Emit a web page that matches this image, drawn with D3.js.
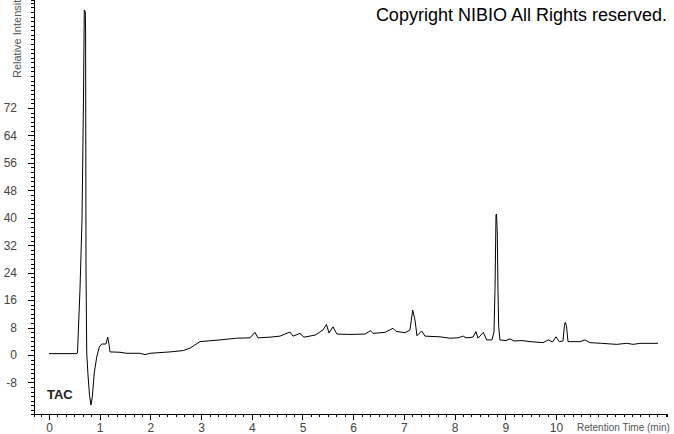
<!DOCTYPE html>
<html>
<head>
<meta charset="utf-8">
<script src="https://cdn.jsdelivr.net/npm/d3@7"></script>
<style>
  body { margin: 0; background: #fff; }
  svg { display: block; font-family: "Liberation Sans", Arial, sans-serif; }
</style>
</head>
<body>
<div id="chart"></div>
<script>
// retention time (min) and relative intensity
const times = [
  0, 0.533, 0.562, 0.611, 0.651, 0.680, 0.696, 0.716, 0.722, 0.730, 0.744, 0.769, 0.799, 0.828, 0.854,
  0.893, 0.941, 0.992, 1.039, 1.124, 1.158, 1.183, 1.203, 1.400, 1.533, 1.795, 1.893, 1.992, 2.387,
  2.649, 2.781, 2.978, 3.373, 3.702, 3.964, 4.063, 4.122, 4.359, 4.556, 4.753, 4.813, 4.951, 5.030,
  5.247, 5.345, 5.404, 5.473, 5.523, 5.602, 5.680, 5.937, 6.233, 6.341, 6.391, 6.627, 6.785, 6.844,
  7.022, 7.120, 7.174, 7.219, 7.258, 7.351, 7.416, 7.712, 7.909, 8.067, 8.172, 8.225, 8.363, 8.422,
  8.462, 8.566, 8.633, 8.738, 8.777, 8.797, 8.817, 8.826, 8.842, 8.856, 8.870, 8.895, 9.014, 9.093,
  9.172, 9.329, 9.487, 9.744, 9.848, 9.935, 10.000, 10.065, 10.138, 10.168, 10.183, 10.207, 10.237,
  10.473, 10.572, 10.671, 10.901, 11.197, 11.394, 11.525, 11.657, 12.012
]
const intensity = [
  0.4, 0.4, 0.6, 19.0, 39.4, 74.3, 100.6, 100.0, 93.9, 24.8, 0.6, -5.8, -11.7, -14.6, -12.2,
  -5.2, -0.6, 2.3, 3.2, 3.2, 5.2, 3.2, 0.9, 0.8, 0.5, 0.5, 0.1, 0.5, 0.9,
  1.3, 2.0, 3.9, 4.4, 4.9, 5.0, 6.6, 5.0, 5.2, 5.5, 6.7, 5.5, 6.3, 5.2,
  5.8, 6.7, 7.3, 8.9, 6.4, 8.2, 6.1, 6.0, 6.1, 7.1, 6.3, 6.6, 7.8, 6.9,
  6.5, 7.3, 13.1, 10.2, 5.6, 7.0, 5.5, 5.3, 4.9, 5.0, 5.5, 5.0, 5.2, 6.8,
  4.9, 6.6, 4.4, 4.4, 6.7, 19.0, 40.8, 41.1, 35.6, 19.0, 8.3, 4.4, 4.2, 4.7,
  4.1, 4.2, 3.9, 3.6, 4.4, 3.8, 5.3, 3.9, 4.1, 8.7, 9.5, 8.5, 3.9,
  3.9, 4.4, 3.6, 3.4, 3.1, 3.4, 3.1, 3.4, 3.4
]
const xTickLabels = [0, 1, 2, 3, 4, 5, 6, 7, 8, 9, 10]
const yTickLabels = [-8, 0, 8, 16, 24, 32, 40, 48, 56, 64, 72]

const width = 674
const height = 434

const svg = d3.select('#chart').append('svg')
  .attr('width', width)
  .attr('height', height)

const x = d3.scaleLinear().domain([-0.296, 12.19]).range([34, 667])
const y = d3.scaleLinear().domain([-17.2, 103.5]).range([414, 0])

const xMinor = d3.range(0, 78).map(i => -1 / 6 + i / 6).filter(t => t <= 12.19 && t >= -0.296)
const yMinor = d3.range(0, 92).map(i => -16 + i * 8 / 6).filter(v => v <= 103.5)

// x axis
const gx = svg.append('g').attr('transform', `translate(0,${y(-17.2)})`)
gx.call(d3.axisBottom(x).tickValues(xMinor).tickSize(3).tickFormat(''))
gx.append('g').call(d3.axisBottom(x).tickValues(xTickLabels).tickSize(6).tickPadding(3).tickFormat(d => String(d)))
gx.selectAll('text').attr('fill', '#444').style('font-size', '12px')

// y axis
const gy = svg.append('g').attr('transform', `translate(${x(-0.296)},0)`)
gy.call(d3.axisLeft(y).tickValues(yMinor).tickSize(3).tickFormat(''))
gy.append('g').call(d3.axisLeft(y).tickValues(yTickLabels).tickSize(6).tickPadding(11).tickFormat(d => String(d)))
gy.selectAll('text').attr('fill', '#444').style('font-size', '12px')

svg.selectAll('g g .domain').remove()
svg.selectAll('.domain, line').attr('stroke', '#000').attr('shape-rendering', 'crispEdges')

// trace
const points = times.map((t, i) => [t, intensity[i]])
svg.append('path')
  .datum(points)
  .attr('fill', 'none')
  .attr('stroke', '#000')
  .attr('stroke-width', 1)
  .attr('d', d3.line().x(d => x(d[0])).y(d => y(d[1])))

// labels
svg.append('text')
  .attr('transform', 'translate(21,78) rotate(-90)')
  .attr('fill', '#555')
  .style('font-size', '11px')
  .text('Relative Intensity')

svg.append('text')
  .attr('x', 577)
  .attr('y', 431)
  .attr('fill', '#555')
  .style('font-size', '10px')
  .text('Retention Time (min)')

svg.append('text')
  .attr('x', 667)
  .attr('y', 21)
  .attr('text-anchor', 'end')
  .attr('fill', '#000')
  .style('font-size', '18px')
  .text('Copyright NIBIO All Rights reserved.')

svg.append('text')
  .attr('x', 47)
  .attr('y', 399)
  .attr('fill', '#222')
  .style('font-size', '13px')
  .style('font-weight', 'bold')
  .text('TAC')
</script>
</body>
</html>
